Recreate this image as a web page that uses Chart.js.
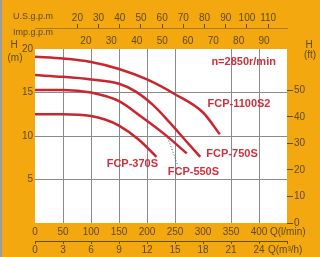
<!DOCTYPE html>
<html>
<head>
<meta charset="utf-8">
<script src="https://cdn.jsdelivr.net/npm/chart.js@4"></script>
<style>
  html, body { margin: 0; padding: 0; background: #F3A80F; }
  canvas { display: block; }
</style>
</head>
<body>
<canvas id="myChart" width="320" height="257"></canvas>
<script>
// pump curves: flow in l/min, head in m
var q370 = [0, 50, 100, 125, 150, 185, 217];
var h370 = [12.5, 12.5, 12.3, 11.9, 11.2, 9.6, 7.6];
var q550 = [0, 50, 100, 150, 190, 237, 271];
var h550 = [15.3, 15.3, 15.0, 14.0, 12.2, 9.9, 8.0];
var q750 = [0, 50, 100, 150, 180, 210, 240, 270, 295];
var h750 = [17.0, 16.8, 16.5, 16.0, 15.1, 13.6, 11.6, 9.4, 7.6];
var q1100 = [0, 50, 100, 150, 200, 250, 300, 330];
var h1100 = [19.1, 18.9, 18.5, 17.7, 16.5, 14.8, 12.7, 10.2];

var curveNames = ["FCP-370S", "FCP-550S", "FCP-750S", "FCP-1100S2"];
// label anchors (l/min, m)
var labelQ = [128, 237, 306, 308];
var labelH = [6.8, 5.9, 7.9, 13.7];
// dotted leader from FCP-550S label to its curve
var leaderQ = [237, 255];
var leaderH = [9.8, 6.6];

var speedText = "n=2850r/min";
var speedQ = 315, speedH = 18.5;

var red = "#C9262F";
var txt = "#5e4b22";
var grid = "#8a8a8a";
var fam = "'Liberation Sans', Arial, sans-serif";

function pts(q, h) {
  return q.map(function (v, i) { return {x: v, y: h[i]}; });
}

function curve(q, h) {
  return {
    data: pts(q, h),
    borderColor: red,
    borderWidth: 2.5,
    pointRadius: 0,
    fill: false,
    cubicInterpolationMode: 'monotone'
  };
}

var leader = {
  data: pts(leaderQ, leaderH),
  borderColor: "#2f5f70",
  borderWidth: 1,
  borderDash: [1, 2],
  pointRadius: 0,
  fill: false
};

var paper = {
  id: 'paper',
  beforeDraw: function (chart) {
    var c = chart.ctx, a = chart.chartArea;
    c.save();
    c.fillStyle = "#F3A80F";
    c.fillRect(0, 0, chart.width, chart.height);
    c.fillStyle = "#ffffff";
    c.fillRect(a.left, a.top, a.right - a.left, a.bottom - a.top);
    c.fillStyle = "#9c9c9c";
    c.fillRect(0, 0, 2, chart.height);
    c.restore();
  },
  afterDraw: function (chart) {
    var c = chart.ctx;
    var sx = chart.scales.x, sy = chart.scales.y;
    c.save();
    c.textBaseline = 'middle';
    // unit titles
    c.fillStyle = txt;
    c.font = "9px " + fam;
    c.textAlign = 'left';
    c.fillText("U.S.g.p.m", 13, 17);
    c.fillText("Imp.g.p.m", 13, 33);
    c.font = "10px " + fam;
    c.textAlign = 'center';
    c.fillText("H", 14, 45);
    c.fillText("(m)", 15, 58);
    c.fillText("H", 309, 45);
    c.fillText("(ft)", 310, 55);
    c.textAlign = 'left';
    c.fillText("Q(l/min)", 270, 232);
    c.fillText("Q(m\u00B3/h)", 268, 250);
    // curve labels
    c.fillStyle = "#D0303C";
    c.font = "bold 11px " + fam;
    for (var i = 0; i < curveNames.length; i++) {
      c.fillText(curveNames[i], sx.getPixelForValue(labelQ[i]), sy.getPixelForValue(labelH[i]));
    }
    c.fillText(speedText, sx.getPixelForValue(speedQ), sy.getPixelForValue(speedH));
    c.restore();
  }
};

var tickFont = {family: fam, size: 10};

var ctx = document.getElementById("myChart").getContext('2d');
var myChart = new Chart(ctx, {
  type: 'line',
  data: {
    datasets: [curve(q370, h370), curve(q550, h550), curve(q750, h750), curve(q1100, h1100), leader]
  },
  options: {
    responsive: false,
    animation: false,
    devicePixelRatio: 1,
    layout: {padding: 0},
    plugins: {legend: {display: false}, tooltip: {enabled: false}},
    scales: {
      x: {
        type: 'linear', position: 'bottom', weight: 0,
        min: 0, max: 450,
        ticks: {stepSize: 50, includeBounds: false, padding: 3, color: txt, font: tickFont,
          callback: function (v) { return v <= 400 ? v : ''; }},
        grid: {drawTicks: false,
          color: function (c) { var v = c.tick.value; return (v <= 0 || v >= 450 || v == 300) ? 'transparent' : grid; }},
        border: {display: false},
        afterFit: function (s) { s.height = 18; }
      },
      m3h: {
        type: 'linear', position: 'bottom', weight: 1,
        min: 0, max: 27,
        ticks: {stepSize: 3, includeBounds: false, padding: 0, color: txt, font: tickFont,
          callback: function (v) { return v <= 24 ? v : ''; }},
        grid: {drawOnChartArea: false, tickLength: 3, color: txt},
        border: {display: true, color: txt},
        afterFit: function (s) { s.height = 16; }
      },
      imp: {
        type: 'linear', position: 'top', weight: 1,
        min: 0, max: 450 / 4.546,
        ticks: {stepSize: 10, includeBounds: false, padding: 2, color: txt, font: tickFont,
          callback: function (v) { return (v >= 20 && v <= 90) ? v : ''; }},
        grid: {display: false, drawTicks: false},
        border: {display: false},
        afterFit: function (s) { s.height = 21; }
      },
      usg: {
        type: 'linear', position: 'top', weight: 2,
        min: 0, max: 450 / 3.785,
        ticks: {stepSize: 10, includeBounds: false, padding: 0, color: txt, font: tickFont,
          callback: function (v) { return (v >= 20 && v <= 110) ? v : ''; }},
        grid: {drawOnChartArea: false, tickLength: 4,
          color: function (c) { var v = c.tick.value; return (v >= 20 && v <= 110) ? txt : 'transparent'; }},
        border: {display: true, color: "rgba(94,75,34,0.5)"},
        afterFit: function (s) { s.height = 28; }
      },
      y: {
        type: 'linear', position: 'left',
        min: 0, max: 20,
        ticks: {stepSize: 5, includeBounds: false, padding: 2, color: txt, font: tickFont,
          callback: function (v) { return v > 0 ? v : ''; }},
        grid: {drawTicks: false,
          color: function (c) { var v = c.tick.value; return (v <= 0 || v >= 20) ? 'transparent' : grid; }},
        border: {display: false},
        afterFit: function (s) { s.width = 35; }
      },
      ft: {
        type: 'linear', position: 'right',
        min: 0, max: 20 / 0.3048,
        ticks: {stepSize: 10, includeBounds: false, padding: 1, color: txt, font: tickFont,
          callback: function (v) { return v <= 50 ? v : ''; }},
        grid: {drawOnChartArea: false, tickLength: 6,
          color: function (c) { return c.tick.value <= 50 ? txt : 'transparent'; }},
        border: {display: false},
        afterFit: function (s) { s.width = 33; }
      }
    }
  },
  plugins: [paper]
});
</script>
</body>
</html>
